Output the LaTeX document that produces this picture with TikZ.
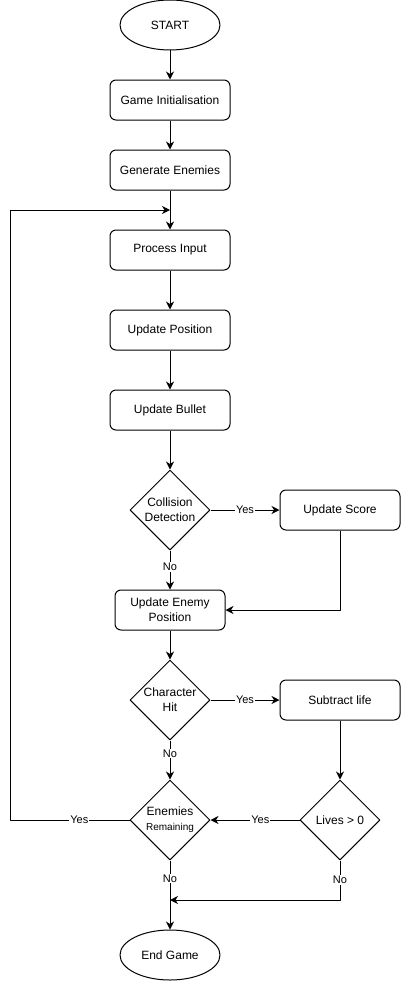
\documentclass[tikz,border=0pt]{standalone}
\usepackage{fontspec}
\setmainfont{Liberation Sans}
\usetikzlibrary{shapes.geometric,arrows.meta}
\begin{document}
\begin{tikzpicture}[x=1pt,y=-1pt,line width=1pt,line join=round,
  font=\fontsize{12}{15}\selectfont,
  box/.style={draw,rounded corners=6pt,minimum width=120pt,minimum height=40pt,inner sep=0pt,align=center},
  term/.style={draw,ellipse,minimum width=100pt,minimum height=50pt,inner sep=0pt},
  dec/.style={draw,diamond,aspect=1,minimum width=80pt,minimum height=80pt,inner sep=0pt},
  lbl/.style={fill=white,inner sep=1pt,font=\fontsize{11}{13}\selectfont},
  >={Stealth[length=8pt,width=8pt,inset=2.5pt]}]
  \useasboundingbox (0,0) rectangle (400,982);
  \node[term] (start) at (170,25) {START};
  \node[box] (init) at (170,100) {Game Initialisation};
  \node[box] (gen) at (170,170) {Generate Enemies};
  \node[box] (input) at (170,250) {Process Input};
  \node[box] (pos) at (170,330) {Update Position};
  \node[box] (bullet) at (170,410) {Update Bullet};
  \node[dec,label={[align=center]center:{Collision\\Detection}}] (coll) at (170,510) {};
  \node[box] (score) at (340,510) {Update Score};
  \node[box,minimum width=110pt] (enemy) at (170,610) {Update Enemy\\Position};
  \node[dec,label={[align=center]center:{Character\\Hit}}] (hit) at (170,700) {};
  \node[box] (life) at (340,700) {Subtract life};
  \node[dec,label={[align=center]center:{Enemies\\{\fontsize{10}{12}\selectfont Remaining}}}] (remain) at (170,820) {};
  \node[dec,label={center:{Lives > 0}}] (lives) at (340,820) {};
  \node[term] (stop) at (170,955) {End Game};
  \coordinate (loopin) at (170,210);
  \coordinate (loopcorner) at (10,820);
  \coordinate (merge) at (170,900);
  % main column
  \draw[->] (start) -- (init);
  \draw[->] (init) -- (gen);
  \draw[->] (gen) -- (input);
  \draw[->] (input) -- (pos);
  \draw[->] (pos) -- (bullet);
  \draw[->] (bullet) -- (coll);
  \draw[->] (coll) -- node[lbl]{Yes} (score);
  \draw[->] (coll) -- node[lbl,pos=.42]{No} (enemy);
  \draw[->] (score) |- (enemy);
  \draw[->] (enemy) -- (hit);
  \draw[->] (hit) -- node[lbl]{Yes} (life);
  \draw[->] (hit) -- node[lbl,pos=.33]{No} (remain);
  \draw[->] (life) -- (lives);
  \draw[->] (lives) -- node[lbl,pos=.44]{Yes} (remain);
  % back to the loop and out
  \draw[->] (remain) -- node[lbl,pos=.42]{Yes} (loopcorner) |- (loopin);
  \draw[->] (remain) -- node[lbl,pos=.26]{No} (stop);
  \draw[->] (lives) -- node[lbl]{No} (lives |- merge) -- (merge);
\end{tikzpicture}
\end{document}
